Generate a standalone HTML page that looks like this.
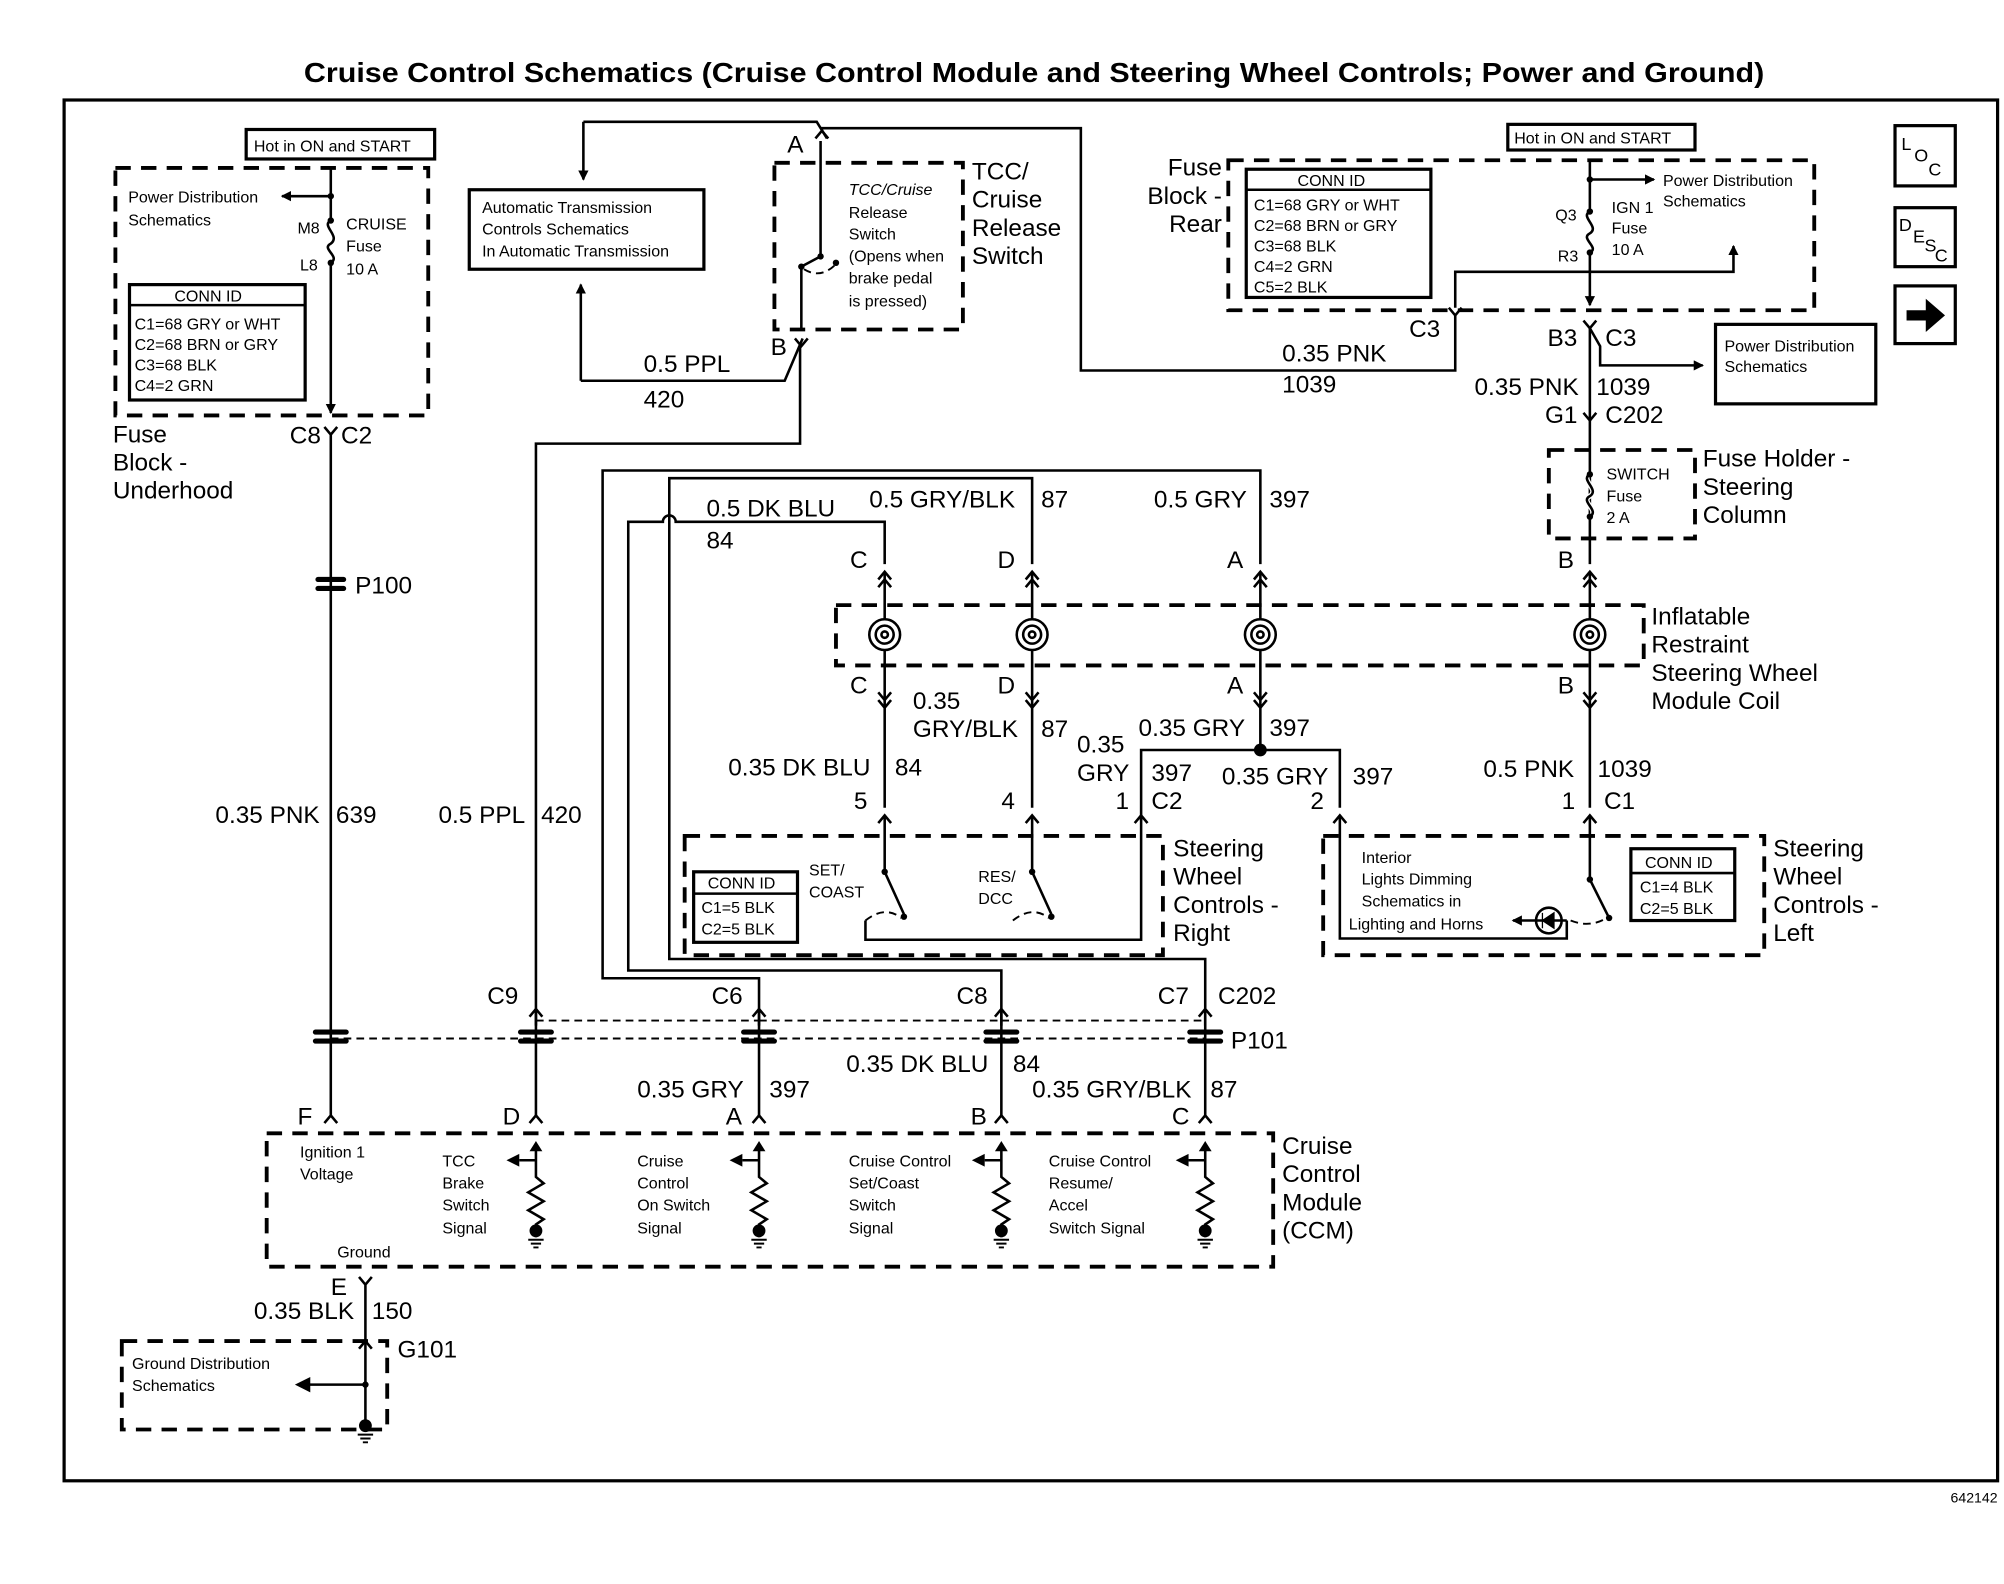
<!DOCTYPE html>
<html><head><meta charset="utf-8"><style>
html,body{margin:0;padding:0;background:#fff;}
svg{display:block}
text{font-family:"Liberation Sans",Arial,sans-serif;fill:#000}
.t{font-size:19px}
.s{font-size:12.5px}
.b{font-weight:bold}
.w{stroke:#000;stroke-width:2;fill:none}
.d{stroke:#000;stroke-width:3;fill:none;stroke-dasharray:12 8}
.dd{stroke:#000;stroke-width:1.5;fill:none;stroke-dasharray:6 4}
.bx{stroke:#000;stroke-width:2.5;fill:none}
</style></head><body>
<svg width="2004" height="1584" viewBox="0 0 1563 1235.5" preserveAspectRatio="none" xmlns="http://www.w3.org/2000/svg">
<defs>
<marker id="ar" markerWidth="8" markerHeight="8" refX="7" refY="4" orient="auto" markerUnits="userSpaceOnUse"><path d="M0,0 L8,4 L0,8 z" fill="#000"/></marker>
</defs>
<rect width="1563" height="1236" fill="#fff"/>
<text x="237" y="64" textLength="1139" lengthAdjust="spacingAndGlyphs" class="b" style="font-size:22px">Cruise Control Schematics (Cruise Control Module and Steering Wheel Controls; Power and Ground)</text>
<rect x="50" y="78" width="1508" height="1077" class="bx"/>
<text x="1558" y="1172" text-anchor="end" style="font-size:11px">642142</text>

<!-- Left fuse block -->
<rect x="192" y="101" width="147" height="23" class="bx"/>
<text x="198" y="118" class="s">Hot in ON and START</text>
<rect x="90" y="131" width="244" height="193" class="d"/>
<text x="100" y="158" class="s">Power Distribution</text>
<text x="100" y="176" class="s">Schematics</text>
<path d="M258,153 H220" class="w" marker-end="url(#ar)"/>
<circle cx="258" cy="153" r="2.5"/>
<path d="M258,131 V172 C250,176 266,184 258,190 C250,194 266,200 258,205 V322" class="w" marker-end="url(#ar)"/>
<circle cx="258" cy="172" r="2.5"/><circle cx="258" cy="205" r="2.5"/>
<text x="232" y="182" class="s">M8</text><text x="234" y="211" class="s">L8</text>
<text x="270" y="179" class="s">CRUISE</text><text x="270" y="196" class="s">Fuse</text><text x="270" y="214" class="s">10 A</text>
<rect x="101" y="222" width="137" height="90" class="bx"/>
<line x1="101" y1="238" x2="238" y2="238" class="w"/>
<text x="136" y="235" class="s">CONN ID</text>
<text x="105" y="257" class="s">C1=68 GRY or WHT</text>
<text x="105" y="273" class="s">C2=68 BRN or GRY</text>
<text x="105" y="289" class="s">C3=68 BLK</text>
<text x="105" y="305" class="s">C4=2 GRN</text>
<path d="M253,333 L258,339 L263,333 M258,339 V870" class="w"/>
<text x="226" y="346" class="t">C8</text><text x="266" y="346" class="t">C2</text>
<text x="88" y="345" class="t">Fuse</text><text x="88" y="367" class="t">Block -</text><text x="88" y="389" class="t">Underhood</text>
<rect x="246" y="450" width="24" height="4" rx="2"/><rect x="246" y="457" width="24" height="4" rx="2"/>
<text x="277" y="463" class="t">P100</text>
<text x="168" y="642" class="t">0.35 PNK</text><text x="262" y="642" class="t">639</text>

<!-- TCC switch -->
<rect x="366" y="148" width="183" height="62" class="bx"/>
<text x="376" y="166" class="s">Automatic Transmission</text>
<text x="376" y="183" class="s">Controls Schematics</text>
<text x="376" y="200" class="s">In Automatic Transmission</text>
<path d="M455,95 V140" class="w" marker-end="url(#ar)"/>
<path d="M455,95 H637 L645,108" class="w"/>
<path d="M453,297 V222" class="w" marker-end="url(#ar)"/>
<path d="M453,297 H612 L626,264" class="w"/>
<path d="M624,268 V346 H418 V800" class="w"/>
<path d="M636,108 L641,102 L646,108" class="w"/>
<path d="M641,102 V100 H843 V289 H1135 V245" class="w"/>
<text x="614" y="119" class="t">A</text>
<rect x="604" y="127" width="147" height="130" class="d"/>
<path d="M640,110 V200 L625,208 M625,206 V258" class="w"/>
<circle cx="640" cy="200" r="2.5"/><circle cx="625" cy="208" r="2.5"/><circle cx="652" cy="205" r="2.5"/>
<path d="M627,210 Q640,218 652,206" class="dd"/>
<path d="M620,264 L625,270 L630,264" class="w"/>
<text x="601" y="277" class="t">B</text>
<text x="662" y="152" class="s" font-style="italic">TCC/Cruise</text>
<text x="662" y="170" class="s">Release</text><text x="662" y="187" class="s">Switch</text>
<text x="662" y="204" class="s">(Opens when</text><text x="662" y="221" class="s">brake pedal</text><text x="662" y="239" class="s">is pressed)</text>
<text x="758" y="140" class="t">TCC/</text><text x="758" y="162" class="t">Cruise</text><text x="758" y="184" class="t">Release</text><text x="758" y="206" class="t">Switch</text>
<text x="502" y="290" class="t">0.5 PPL</text><text x="502" y="318" class="t">420</text>
<text x="1000" y="282" class="t">0.35 PNK</text><text x="1000" y="306" class="t">1039</text>

<!-- Fuse block rear -->
<rect x="1176" y="97" width="146" height="20" class="bx"/>
<text x="1181" y="112" class="s">Hot in ON and START</text>
<rect x="958" y="125" width="457" height="117" class="d"/>
<text x="953" y="137" text-anchor="end" class="t">Fuse</text><text x="953" y="159" text-anchor="end" class="t">Block -</text><text x="953" y="181" text-anchor="end" class="t">Rear</text>
<rect x="972" y="132" width="144" height="100" class="bx"/>
<line x1="972" y1="148" x2="1116" y2="148" class="w"/>
<text x="1012" y="145" class="s">CONN ID</text>
<text x="978" y="164" class="s">C1=68 GRY or WHT</text>
<text x="978" y="180" class="s">C2=68 BRN or GRY</text>
<text x="978" y="196" class="s">C3=68 BLK</text>
<text x="978" y="212" class="s">C4=2 GRN</text>
<text x="978" y="228" class="s">C5=2 BLK</text>
<path d="M1240,140 H1290" class="w" marker-end="url(#ar)"/><circle cx="1240" cy="140" r="2.5"/>
<text x="1297" y="145" class="s">Power Distribution</text><text x="1297" y="161" class="s">Schematics</text>
<path d="M1240,125 V165 C1232,169 1248,177 1240,182 C1232,186 1248,193 1240,197 V238" class="w" marker-end="url(#ar)"/>
<circle cx="1240" cy="165" r="2.5"/><circle cx="1240" cy="197" r="2.5"/>
<text x="1213" y="172" class="s">Q3</text><text x="1215" y="204" class="s">R3</text>
<text x="1257" y="166" class="s">IGN 1</text><text x="1257" y="182" class="s">Fuse</text><text x="1257" y="199" class="s">10 A</text>
<path d="M1135,240 V212 H1352 V192" class="w" marker-end="url(#ar)"/>
<path d="M1130,240 L1135,246 L1140,240" class="w"/>
<text x="1099" y="263" class="t">C3</text>
<path d="M1235,250 L1240,256 L1245,250" class="w"/>
<path d="M1240,256 V440" class="w"/>
<path d="M1240,256 L1248,270 V285 H1328" class="w" marker-end="url(#ar)"/>
<text x="1207" y="270" class="t">B3</text><text x="1252" y="270" class="t">C3</text>
<rect x="1338" y="253" width="125" height="62" class="bx"/>
<text x="1345" y="274" class="s">Power Distribution</text><text x="1345" y="290" class="s">Schematics</text>
<text x="1150" y="308" class="t">0.35 PNK</text><text x="1245" y="308" class="t">1039</text>
<path d="M1235,322 L1240,328 L1245,322" class="w"/>
<text x="1205" y="330" class="t">G1</text><text x="1252" y="330" class="t">C202</text>
<rect x="1208" y="351" width="114" height="69" class="d"/>
<path d="M1240,370 C1232,374 1248,382 1240,387 C1232,391 1248,398 1240,403" class="w" style="stroke:#fff;stroke-width:4"/>
<path d="M1240,370 C1232,374 1248,382 1240,387 C1232,391 1248,398 1240,403" class="w"/>
<circle cx="1240" cy="370" r="2.5"/><circle cx="1240" cy="403" r="2.5"/>
<text x="1253" y="374" class="s">SWITCH</text><text x="1253" y="391" class="s">Fuse</text><text x="1253" y="408" class="s">2 A</text>
<text x="1328" y="364" class="t">Fuse Holder -</text><text x="1328" y="386" class="t">Steering</text><text x="1328" y="408" class="t">Column</text>

<!-- icons -->
<rect x="1478" y="98" width="47" height="47" class="bx"/>
<text x="1483" y="117" style="font-size:14px">L</text><text x="1493" y="126" style="font-size:14px">O</text><text x="1504" y="137" style="font-size:14px">C</text>
<rect x="1478" y="162" width="47" height="46" class="bx"/>
<text x="1481" y="180" style="font-size:14px">D</text><text x="1492" y="189" style="font-size:14px">E</text><text x="1501" y="196" style="font-size:14px">S</text><text x="1509" y="204" style="font-size:14px">C</text>
<rect x="1478" y="223" width="47" height="45" class="bx"/>
<path d="M1487,242 H1502 V233 L1517,246 L1502,259 V250 H1487 Z" fill="#000"/>

<!-- wire loops -->
<path d="M983,440 V367 H470 V763 H592 V800" class="w"/>
<path d="M805,440 V373 H522 V748 H940 V800" class="w"/>
<path d="M690,440 V407 H527 A5,5 0 0 0 517,407 H490 V757 H781 V800" class="w"/>
<text x="551" y="403" class="t">0.5 DK BLU</text><text x="551" y="428" class="t">84</text>
<text x="678" y="396" class="t">0.5 GRY/BLK</text><text x="812" y="396" class="t">87</text>
<text x="900" y="396" class="t">0.5 GRY</text><text x="990" y="396" class="t">397</text>
<text x="663" y="443" class="t">C</text><text x="778" y="443" class="t">D</text><text x="957" y="443" class="t">A</text><text x="1215" y="443" class="t">B</text>
<!-- coil box -->
<rect x="652" y="472" width="630" height="47" class="d"/>
<g class="w">
<path d="M685,452 L690,446 L695,452 M685,458 L690,452 L695,458"/>
<path d="M800,452 L805,446 L810,452 M800,458 L805,452 L810,458"/>
<path d="M978,452 L983,446 L988,452 M978,458 L983,452 L988,458"/>
<path d="M1235,452 L1240,446 L1245,452 M1235,458 L1240,452 L1245,458"/>
<path d="M685,540 L690,546 L695,540 M685,546 L690,552 L695,546"/>
<path d="M800,540 L805,546 L810,540 M800,546 L805,552 L810,546"/>
<path d="M978,540 L983,546 L988,540 M978,546 L983,552 L988,546"/>
<path d="M1235,540 L1240,546 L1245,540 M1235,546 L1240,552 L1245,546"/>
<path d="M690,446 V483 M690,507 V630 M805,446 V483 M805,507 V630 M983,446 V483 M983,507 V585 M1240,446 V483 M1240,507 V630"/>
</g>
<g fill="none" stroke="#000" stroke-width="2">
<circle cx="690" cy="495" r="12"/><circle cx="690" cy="495" r="7"/><circle cx="690" cy="495" r="2.5"/>
<circle cx="805" cy="495" r="12"/><circle cx="805" cy="495" r="7"/><circle cx="805" cy="495" r="2.5"/>
<circle cx="983" cy="495" r="12"/><circle cx="983" cy="495" r="7"/><circle cx="983" cy="495" r="2.5"/>
<circle cx="1240" cy="495" r="12"/><circle cx="1240" cy="495" r="7"/><circle cx="1240" cy="495" r="2.5"/>
</g>
<text x="1288" y="487" class="t">Inflatable</text><text x="1288" y="509" class="t">Restraint</text><text x="1288" y="531" class="t">Steering Wheel</text><text x="1288" y="553" class="t">Module Coil</text>
<text x="663" y="541" class="t">C</text><text x="778" y="541" class="t">D</text><text x="957" y="541" class="t">A</text><text x="1215" y="541" class="t">B</text>
<text x="712" y="553" class="t">0.35</text><text x="712" y="575" class="t">GRY/BLK</text><text x="812" y="575" class="t">87</text>
<text x="840" y="587" class="t">0.35</text><text x="840" y="609" class="t">GRY</text>
<text x="888" y="574" class="t">0.35 GRY</text><text x="990" y="574" class="t">397</text>
<circle cx="983" cy="585" r="5"/>
<path d="M890,640 V585 H1045 V630" class="w"/>
<text x="568" y="605" class="t">0.35 DK BLU</text><text x="698" y="605" class="t">84</text>
<text x="898" y="609" class="t">397</text><text x="953" y="612" class="t">0.35 GRY</text><text x="1055" y="612" class="t">397</text>
<text x="1157" y="606" class="t">0.5 PNK</text><text x="1246" y="606" class="t">1039</text>
<text x="666" y="631" class="t">5</text><text x="781" y="631" class="t">4</text><text x="870" y="631" class="t">1</text><text x="898" y="631" class="t">C2</text>
<text x="1022" y="631" class="t">2</text><text x="1218" y="631" class="t">1</text><text x="1251" y="631" class="t">C1</text>
<g class="w">
<path d="M685,642 L690,636 L695,642 M800,642 L805,636 L810,642 M885,642 L890,636 L895,642 M1040,642 L1045,636 L1050,642 M1235,642 L1240,636 L1245,642"/>
<path d="M690,636 V680 L705,713 M805,636 V680 L820,713 M890,636 V733 H675 V718 M1045,636 V732 H1222 V718 M1240,636 V686 L1255,716"/>
</g>
<!-- steering right -->
<rect x="534" y="652" width="373" height="93" class="d"/>
<rect x="541" y="680" width="81" height="55" class="bx"/>
<line x1="541" y1="697" x2="622" y2="697" class="w"/>
<text x="552" y="693" class="s">CONN ID</text><text x="547" y="712" class="s">C1=5 BLK</text><text x="547" y="729" class="s">C2=5 BLK</text>
<text x="631" y="683" class="s">SET/</text><text x="631" y="700" class="s">COAST</text>
<text x="763" y="688" class="s">RES/</text><text x="763" y="705" class="s">DCC</text>
<circle cx="705" cy="715" r="2.5"/><circle cx="820" cy="715" r="2.5"/><circle cx="690" cy="680" r="2.5"/><circle cx="805" cy="680" r="2.5"/>
<path d="M675,718 Q690,706 703,716" class="dd"/><path d="M790,718 Q805,706 818,716" class="dd"/>
<text x="915" y="668" class="t">Steering</text><text x="915" y="690" class="t">Wheel</text><text x="915" y="712" class="t">Controls -</text><text x="915" y="734" class="t">Right</text>
<!-- steering left -->
<rect x="1032" y="652" width="344" height="93" class="d"/>
<text x="1062" y="673" class="s">Interior</text><text x="1062" y="690" class="s">Lights Dimming</text><text x="1062" y="707" class="s">Schematics in</text><text x="1052" y="725" class="s">Lighting and Horns</text>
<path d="M1222,718 H1180" class="w" marker-end="url(#ar)"/>
<circle cx="1208" cy="718" r="10" class="w"/><path d="M1203,718 L1212,712 V724 Z M1203,712 V724" fill="#000" stroke="#000" stroke-width="1"/>
<circle cx="1255" cy="716" r="2.5"/><circle cx="1240" cy="686" r="2.5"/>
<path d="M1225,718 Q1240,724 1253,716" class="dd"/>
<rect x="1272" y="662" width="81" height="56" class="bx"/>
<line x1="1272" y1="681" x2="1353" y2="681" class="w"/>
<text x="1283" y="677" class="s">CONN ID</text><text x="1279" y="696" class="s">C1=4 BLK</text><text x="1279" y="713" class="s">C2=5 BLK</text>
<text x="1383" y="668" class="t">Steering</text><text x="1383" y="690" class="t">Wheel</text><text x="1383" y="712" class="t">Controls -</text><text x="1383" y="734" class="t">Left</text>

<!-- P101 row -->
<text x="380" y="783" class="t">C9</text><text x="555" y="783" class="t">C6</text><text x="746" y="783" class="t">C8</text><text x="903" y="783" class="t">C7</text><text x="950" y="783" class="t">C202</text>
<path d="M258,810 H940" class="dd"/>
<path d="M418,796 H592 M592,796 H781 M781,796 H940" class="dd"/>
<g class="w">
<path d="M413,793 L418,787 L423,793 M587,793 L592,787 L597,793 M776,793 L781,787 L786,793 M935,793 L940,787 L945,793"/>
<path d="M418,787 V870 M592,787 V870 M781,787 V870 M940,787 V870"/>
</g>
<g>
<rect x="244" y="803" width="28" height="4" rx="2"/><rect x="244" y="810" width="28" height="4" rx="2"/>
<rect x="404" y="803" width="28" height="4" rx="2"/><rect x="404" y="810" width="28" height="4" rx="2"/>
<rect x="578" y="803" width="28" height="4" rx="2"/><rect x="578" y="810" width="28" height="4" rx="2"/>
<rect x="767" y="803" width="28" height="4" rx="2"/><rect x="767" y="810" width="28" height="4" rx="2"/>
<rect x="926" y="803" width="28" height="4" rx="2"/><rect x="926" y="810" width="28" height="4" rx="2"/>
</g>
<text x="960" y="818" class="t">P101</text>
<text x="342" y="642" class="t">0.5 PPL</text><text x="422" y="642" class="t">420</text>
<text x="660" y="836" class="t">0.35 DK BLU</text><text x="790" y="836" class="t">84</text>
<text x="497" y="856" class="t">0.35 GRY</text><text x="600" y="856" class="t">397</text>
<text x="805" y="856" class="t">0.35 GRY/BLK</text><text x="944" y="856" class="t">87</text>
<text x="232" y="877" class="t">F</text><text x="392" y="877" class="t">D</text><text x="566" y="877" class="t">A</text><text x="757" y="877" class="t">B</text><text x="914" y="877" class="t">C</text>
<g class="w">
<path d="M253,876 L258,870 L263,876 M413,876 L418,870 L423,876 M587,876 L592,870 L597,876 M776,876 L781,870 L786,876 M935,876 L940,870 L945,876"/>
</g>
<!-- CCM -->
<rect x="208" y="884" width="785" height="104" class="d"/>
<text x="234" y="903" class="s">Ignition 1</text><text x="234" y="920" class="s">Voltage</text>
<text x="345" y="910" class="s">TCC</text><text x="345" y="927" class="s">Brake</text><text x="345" y="944" class="s">Switch</text><text x="345" y="962" class="s">Signal</text>
<text x="497" y="910" class="s">Cruise</text><text x="497" y="927" class="s">Control</text><text x="497" y="944" class="s">On Switch</text><text x="497" y="962" class="s">Signal</text>
<text x="662" y="910" class="s">Cruise Control</text><text x="662" y="927" class="s">Set/Coast</text><text x="662" y="944" class="s">Switch</text><text x="662" y="962" class="s">Signal</text>
<text x="818" y="910" class="s">Cruise Control</text><text x="818" y="927" class="s">Resume/</text><text x="818" y="944" class="s">Accel</text><text x="818" y="962" class="s">Switch Signal</text>
<text x="263" y="981" class="s">Ground</text>
<g class="w">
<path d="M418,893 V918 L424,923 L412,930 L424,937 L412,944 L424,951 L418,955 V965 M418,905 H405"/>
<path d="M592,893 V918 L598,923 L586,930 L598,937 L586,944 L598,951 L592,955 V965 M592,905 H579"/>
<path d="M781,893 V918 L787,923 L775,930 L787,937 L775,944 L787,951 L781,955 V965 M781,905 H768"/>
<path d="M940,893 V918 L946,923 L934,930 L946,937 L934,944 L946,951 L940,955 V965 M940,905 H927"/>
</g>
<g fill="#000">
<path d="M413,898 L418,890 L423,898 Z M587,898 L592,890 L597,898 Z M776,898 L781,890 L786,898 Z M935,898 L940,890 L945,898 Z"/>
<path d="M395,905 L405,900 V910 Z M569,905 L579,900 V910 Z M758,905 L768,900 V910 Z M917,905 L927,900 V910 Z"/>
<circle cx="418" cy="960" r="5"/><circle cx="592" cy="960" r="5"/><circle cx="781" cy="960" r="5"/><circle cx="940" cy="960" r="5"/>
</g>
<g class="w" style="stroke-width:1.5">
<path d="M412,967 H424 M414,970 H422 M416,973 H420 M586,967 H598 M588,970 H596 M590,973 H594 M775,967 H787 M777,970 H785 M779,973 H783 M934,967 H946 M936,970 H944 M938,973 H942"/>
</g>
<text x="1000" y="900" class="t">Cruise</text><text x="1000" y="922" class="t">Control</text><text x="1000" y="944" class="t">Module</text><text x="1000" y="966" class="t">(CCM)</text>
<!-- ground -->
<path d="M280,996 L285,1002 L290,996 M285,1002 V1108" class="w"/>
<text x="258" y="1010" class="t">E</text>
<text x="198" y="1029" class="t">0.35 BLK</text><text x="290" y="1029" class="t">150</text>
<path d="M280,1052 L285,1046 L290,1052" class="w"/>
<text x="310" y="1059" class="t">G101</text>
<rect x="95" y="1046" width="207" height="69" class="d"/>
<text x="103" y="1068" class="s">Ground Distribution</text><text x="103" y="1085" class="s">Schematics</text>
<path d="M285,1080 H240" class="w"/><path d="M230,1080 L242,1074 V1086 Z" fill="#000"/>
<circle cx="285" cy="1080" r="2.5"/>
<circle cx="285" cy="1112" r="5"/>
<path d="M279,1119 H291 M281,1122 H289 M283,1125 H287" class="w" style="stroke-width:1.5"/>
</svg>
</body></html>
